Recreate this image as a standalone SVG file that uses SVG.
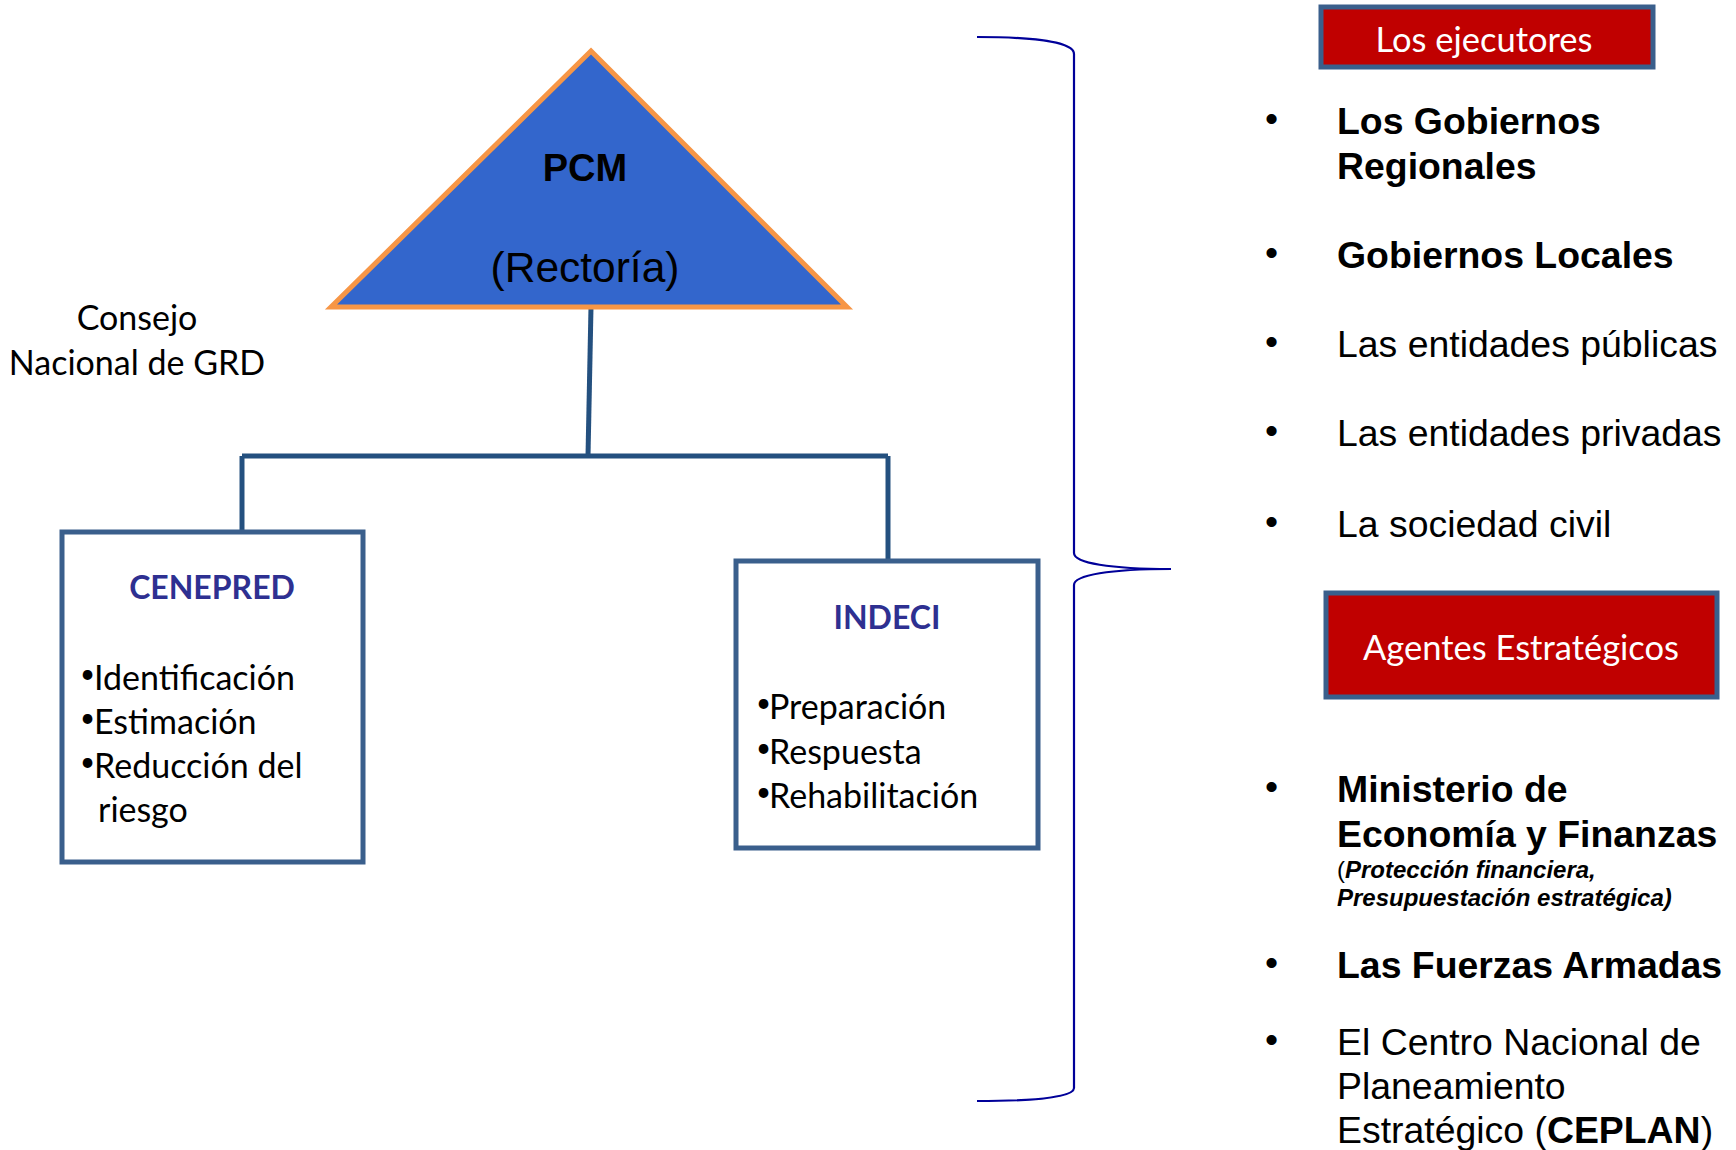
<svg xmlns="http://www.w3.org/2000/svg" width="1736" height="1150" viewBox="0 0 1736 1150">
<style>
.box{fill:#fff;stroke:#3A5F8C;stroke-width:5}
.conn{stroke:#24507F;stroke-width:5;fill:none}
.brace{stroke:#000099;stroke-width:2.2;fill:none}
.cal{font-family:Lato,"Open Sans","Liberation Sans",sans-serif;fill:#000}
.ttl{font-family:Lato,"Open Sans","Liberation Sans",sans-serif;font-weight:bold;fill:#2E3091;font-size:32px;text-anchor:middle}
.item{font-size:34px}
.dot{font-size:26px}
.ar{font-family:"Liberation Sans",Arial,sans-serif;fill:#000;font-size:37.4px}
.b{font-weight:bold}
.hdr{fill:#C00000;stroke:#3A5F8C;stroke-width:5}
.hdrt{font-family:Lato,"Open Sans","Liberation Sans",sans-serif;fill:#fff;font-size:34.5px;text-anchor:middle}
</style>
<rect width="1736" height="1150" fill="#fff"/>
<g id="connectors">
<path class="conn" d="M591,307 L588,456"/>
<path class="conn" d="M242,456 L888,456"/>
<path class="conn" d="M242,456 L242,532"/>
<path class="conn" d="M888,456 L888,561"/>
<path class="brace" d="M977,37 C1045,37 1074,44 1074,54 L1074,553 C1074,563 1110,569 1171,569 C1110,569 1074,575 1074,585 L1074,1088 C1074,1096 1045,1101 977,1101"/>
</g>
<g id="pcm">
<polygon points="591,51 331,307 847,307" fill="#3366CC" stroke="#F79646" stroke-width="5"/>
<text x="585" y="181" font-family="Liberation Sans,Arial,sans-serif" font-weight="bold" font-size="38" text-anchor="middle">PCM</text>
<text x="585" y="282" font-family="Liberation Sans,Arial,sans-serif" font-size="42.5" text-anchor="middle">(Rectoría)</text>
</g>
<g id="consejo">
<text class="cal" font-size="34" text-anchor="middle"><tspan x="137" y="330">Consejo</tspan><tspan x="137" y="375">Nacional de GRD</tspan></text>
</g>
<g id="cenepred">
<rect class="box" x="62" y="532" width="301" height="330"/>
<text class="ttl" x="212" y="599">CENEPRED</text>
<text class="cal dot"><tspan x="80" y="683">•</tspan><tspan x="80" y="727">•</tspan><tspan x="80" y="771">•</tspan></text>
<text class="cal item"><tspan x="94" y="690">Identificación</tspan><tspan x="94" y="734">Estimación</tspan><tspan x="94" y="778">Reducción del</tspan><tspan x="98" y="822">riesgo</tspan></text>
</g>
<g id="indeci">
<rect class="box" x="736" y="561" width="302" height="287"/>
<text class="ttl" x="887" y="629">INDECI</text>
<text class="cal dot"><tspan x="756" y="712">•</tspan><tspan x="756" y="757">•</tspan><tspan x="756" y="801">•</tspan></text>
<text class="cal item"><tspan x="769" y="719">Preparación</tspan><tspan x="769" y="764">Respuesta</tspan><tspan x="769" y="808">Rehabilitación</tspan></text>
</g>
<g id="ejecutores">
<rect class="hdr" x="1321" y="7" width="332" height="60"/>
<text class="hdrt" x="1484" y="52">Los ejecutores</text>
</g>
<g id="ejecutores-list" class="ar">
<text x="1265" y="131">•</text><text class="b"><tspan x="1337" y="134">Los Gobiernos</tspan><tspan x="1337" y="179">Regionales</tspan></text>
<text x="1265" y="265">•</text><text class="b" x="1337" y="268">Gobiernos Locales</text>
<text x="1265" y="354">•</text><text x="1337" y="357">Las entidades públicas</text>
<text x="1265" y="443">•</text><text x="1337" y="446">Las entidades privadas</text>
<text x="1265" y="534">•</text><text x="1337" y="537">La sociedad civil</text>
</g>
<g id="agentes">
<rect class="hdr" x="1326" y="593" width="391" height="104"/>
<text class="hdrt" x="1521" y="660">Agentes Estratégicos</text>
</g>
<g id="agentes-list" class="ar">
<text x="1265" y="799">•</text><text class="b"><tspan x="1337" y="802">Ministerio de</tspan><tspan x="1337" y="847">Economía y Finanzas</tspan></text>
<text font-size="24"><tspan x="1337" y="878">(</tspan><tspan class="b" font-style="italic">Protección financiera,</tspan><tspan class="b" font-style="italic" x="1337" y="906">Presupuestación estratégica)</tspan></text>
<text x="1265" y="975">•</text><text class="b" x="1337" y="978">Las Fuerzas Armadas</text>
<text x="1265" y="1052">•</text><text><tspan x="1337" y="1055">El Centro Nacional de</tspan><tspan x="1337" y="1099">Planeamiento</tspan><tspan x="1337" y="1143">Estratégico (<tspan class="b">CEPLAN</tspan>)</tspan></text>
</g>
</svg>
